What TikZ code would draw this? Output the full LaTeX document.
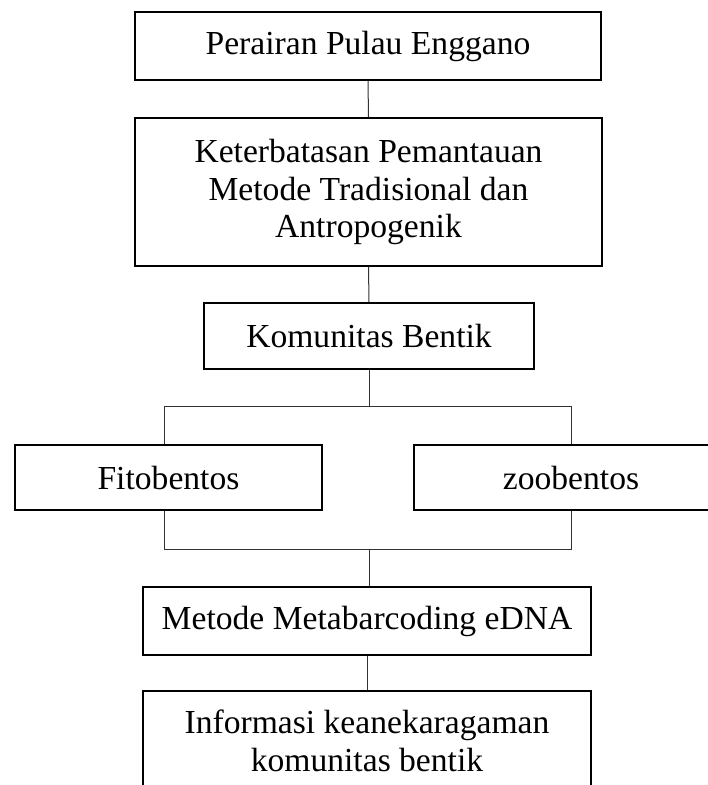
\documentclass[tikz,border=0pt]{standalone}
\usepackage{fontspec}
\setmainfont{Liberation Serif}
\begin{document}
\begin{tikzpicture}[x=1pt,y=-1pt,
  box/.style={draw=black, line width=1.6pt, inner sep=0pt, align=center,
    font=\fontsize{33.6}{37.5}\selectfont},
  conn/.style={draw=black!80, line width=1pt}]
\useasboundingbox (0,0) rectangle (708,785);
\clip (0,0) rectangle (708,785);
\node[box, minimum width=466, minimum height=68] (n1) at (368,46) {Perairan Pulau Enggano};
\node[box, minimum width=467, minimum height=148] (n2) at (368.5,192)
  {Keterbatasan Pemantauan\\Metode Tradisional dan\\Antropogenik};
\node[box, minimum width=330, minimum height=66] (n3) at (369,336) {Komunitas Bentik};
\node[box, minimum width=307, minimum height=65] (n4) at (168.5,477.5) {Fitobentos};
\node[box, minimum width=314, minimum height=65] (n5) at (571,477.5) {zoobentos};
\node[box, minimum width=448, minimum height=68] (n6) at (367,621) {Metode Metabarcoding eDNA};
\node[box, minimum width=448, minimum height=100] (n7) at (367,741)
  {Informasi keanekaragaman\\komunitas bentik};
\coordinate (j) at (369,406.7);
\coordinate (jl) at (164,406.7);
\coordinate (jr) at (571,406.7);
\coordinate (k) at (369,549);
\coordinate (kl) at (164,549);
\coordinate (kr) at (571,549);
\draw[conn] (n1.south) -- (n2.north);
\draw[conn] (n2.south) -- (n3.north);
\draw[conn] (n3.south) -- (j);
\draw[conn] (jl |- n4.north) -- (jl) -- (jr) -- (jr |- n5.north);
\draw[conn] (kl |- n4.south) -- (kl) -- (kr) -- (kr |- n5.south);
\draw[conn] (k) -- (k |- n6.north);
\draw[conn] (n6.south) -- (n6.south |- n7.north);
\end{tikzpicture}
\end{document}
